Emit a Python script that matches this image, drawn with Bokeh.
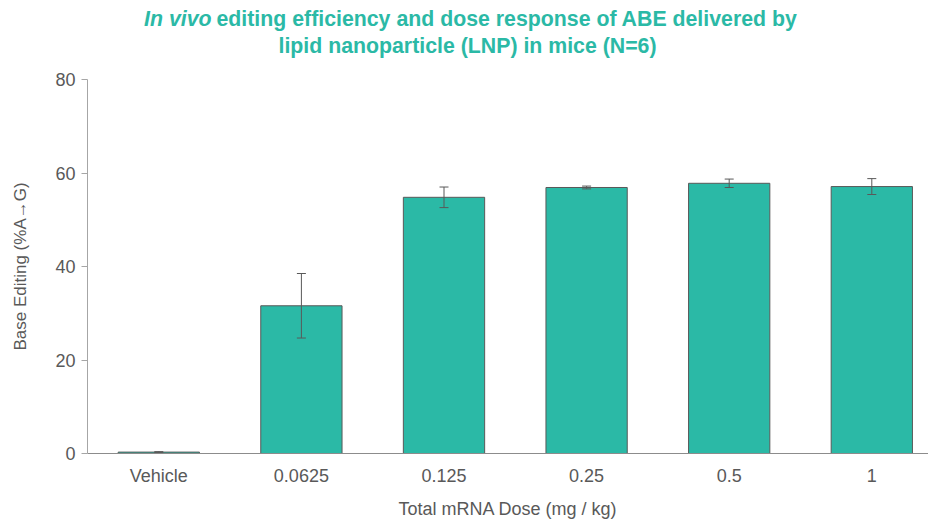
from bokeh.plotting import figure
from bokeh.layouts import column
from bokeh.models import ColumnDataSource, Range1d, FixedTicker, Whisker, TeeHead
from bokeh.core.properties import value
from bokeh.embed import file_html
from bokeh.resources import INLINE

categories = ["Vehicle", "0.0625", "0.125", "0.25", "0.5", "1"]
editing = [0.3, 31.6, 54.8, 56.9, 57.8, 57.1]
errors = [0.1, 6.9, 2.2, 0.3, 0.9, 1.7]
y_ticks = [0, 20, 40, 60, 80]

TEAL = "#2BB9A6"
GRAY = "#595959"
AXIS = "#A6A6A6"
FONT = "Liberation Sans"

W = 928
TH = 67                      # title strip height
FL, FT, FW, FH = 87, 12, 841, 374
H = FT + FH + 60

# ---- title strip (mixed italic / bold); data x == page x ----
t = figure(width=W, height=TH, output_backend="svg", toolbar_location=None,
           frame_width=FW, frame_height=TH,
           x_range=Range1d(FL, FL + FW), y_range=Range1d(0, TH),
           min_border_left=FL, min_border_right=0,
           min_border_top=0, min_border_bottom=0)
t.axis.visible = False
t.grid.visible = False
t.outline_line_color = None
tcommon = dict(text_font=value(FONT), text_font_size="21.3px", text_color=TEAL,
               text_baseline="middle")
t.text(x=[211], y=[TH - 18], text=["In vivo"], text_align="right",
       text_font_style="bold italic", **tcommon)
t.text(x=[216], y=[TH - 18],
       text=["editing efficiency and dose response of ABE delivered by"],
       text_align="left", text_font_style="bold", **tcommon)
t.text(x=[467], y=[TH - 45], text=["lipid nanoparticle (LNP) in mice (N=6)"],
       text_align="center", text_font_style="bold", **tcommon)

# ---- main chart ----
idx = list(range(len(categories)))
src = ColumnDataSource(dict(
    x=idx, top=editing,
    upper=[v + e for v, e in zip(editing, errors)],
    lower=[v - e for v, e in zip(editing, errors)],
))

p = figure(width=W, height=H, output_backend="svg", toolbar_location=None,
           frame_width=FW, frame_height=FH,
           min_border_left=FL, min_border_right=0, min_border_top=FT,
           min_border_bottom=H - FT - FH,
           x_range=Range1d(-0.5, -0.5 + FW / 142.6), y_range=Range1d(0, 80))

p.vbar(x="x", top="top", width=0.57, source=src, fill_color=TEAL,
       line_color=GRAY, line_width=1)

w = Whisker(source=src, base="x", upper="upper", lower="lower",
            line_color=GRAY, line_width=1, level="overlay",
            upper_head=TeeHead(size=9, line_color=GRAY, line_width=1),
            lower_head=TeeHead(size=9, line_color=GRAY, line_width=1))
p.add_layout(w)

p.xgrid.visible = False
p.ygrid.visible = False
p.outline_line_color = None

# x axis
p.xaxis.ticker = FixedTicker(ticks=idx)
p.xaxis.major_label_overrides = {i: c for i, c in zip(idx, categories)}
p.xaxis.major_tick_line_color = None
p.xaxis.minor_tick_line_color = None
p.xaxis.axis_line_color = "#8C8C8C"
p.xaxis.major_label_text_font = FONT
p.xaxis.major_label_text_font_size = "18px"
p.xaxis.major_label_text_color = GRAY
p.xaxis.major_label_standoff = 6
p.xaxis.axis_label = "Total mRNA Dose (mg / kg)"
p.xaxis.axis_label_text_font = FONT
p.xaxis.axis_label_text_font_size = "18px"
p.xaxis.axis_label_text_font_style = "normal"
p.xaxis.axis_label_text_color = GRAY
p.xaxis.axis_label_standoff = 10

# y axis
p.yaxis.ticker = FixedTicker(ticks=y_ticks)
p.yaxis.minor_tick_line_color = None
p.yaxis.major_tick_out = 6
p.yaxis.major_tick_in = 0
p.yaxis.major_tick_line_color = AXIS
p.yaxis.axis_line_color = AXIS
p.yaxis.major_label_text_font = FONT
p.yaxis.major_label_text_font_size = "18px"
p.yaxis.major_label_text_color = GRAY
p.yaxis.major_label_standoff = 6
p.yaxis.axis_label = "Base Editing (%A→G)"
p.yaxis.axis_label_text_font = FONT
p.yaxis.axis_label_text_font_size = "17px"
p.yaxis.axis_label_text_font_style = "normal"
p.yaxis.axis_label_text_color = GRAY
p.yaxis.axis_label_standoff = 22

layout = column(t, p, spacing=0)
open("out.html", "w").write(file_html(layout, INLINE))
